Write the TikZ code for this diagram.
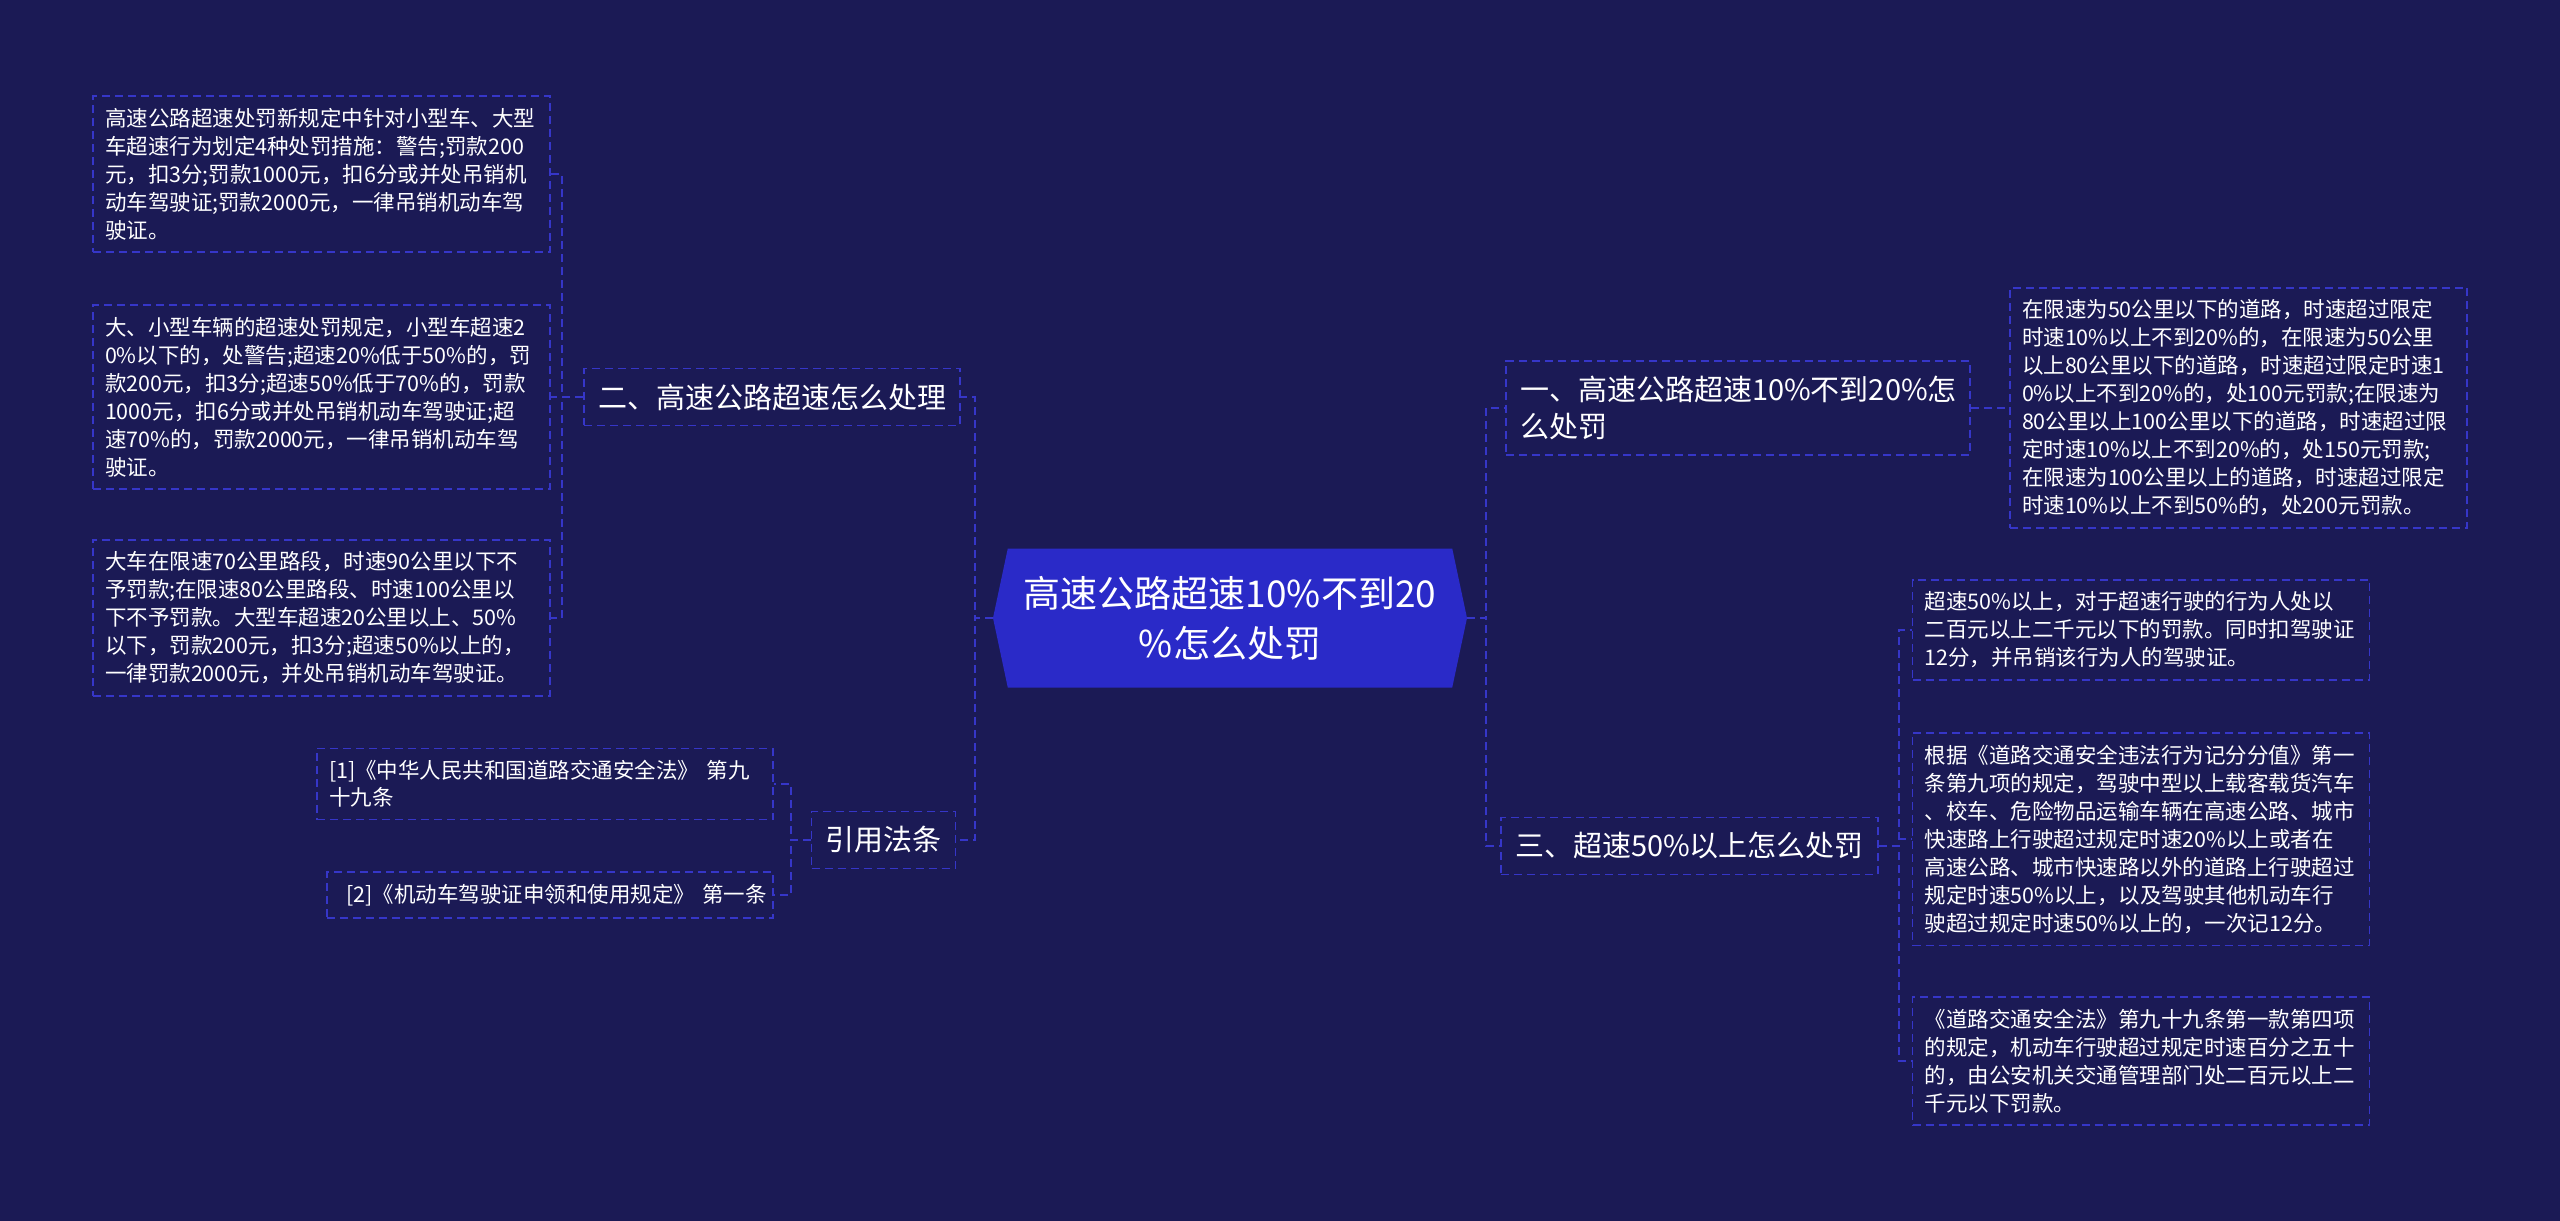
\documentclass[tikz,border=0pt]{standalone}
\usepackage{fontspec}
\setmainfont{Noto Sans CJK SC}
\usepackage{tikz}
\usetikzlibrary{shapes.symbols}
\definecolor{bgnavy}{HTML}{1B1A55}
\definecolor{rootblue}{HTML}{2A2AC8}
\definecolor{linkblue}{HTML}{3636C8}

\begin{document}
\begin{tikzpicture}[x=1pt, y=-1pt,
    root/.style={shape=signal, signal to=west and east, signal pointer angle=156, fill=rootblue, text=white,
        minimum width=474pt, minimum height=139pt, inner sep=0pt, align=center, font=\fontsize{37}{50}\selectfont},
    topic/.style={draw=linkblue, line width=1.6pt, dash pattern=on 8pt off 5pt, text=white,
        align=left, inner xsep=14pt, inner ysep=15pt, font=\fontsize{29}{37}\selectfont},
    leaf/.style={draw=linkblue, line width=1.6pt, dash pattern=on 8pt off 5pt, text=white,
        align=left, text width=433pt, inner xsep=12pt, inner ysep=12pt, font=\fontsize{21.5}{28}\selectfont},
    reffont/.style={font=\fontsize{21.5}{27}\selectfont},
    link/.style={draw=linkblue, line width=1.6pt, dash pattern=on 8pt off 5pt}]

    \fill[bgnavy] (0,0) rectangle (2560,1221);

    \node[root] (root) at (1230,618) {高速公路超速10\%不到20\\\%怎么处罚};

    \node[topic] (er) at (772,397) {二、高速公路超速怎么处理};
    \node[topic] (yin) at (883.5,840) {引用法条};
    \node[topic, text width=436pt] (yi) at (1738,408) {一、高速公路超速10\%不到20\%怎\\么处罚};
    \node[topic] (san) at (1689.5,846) {三、超速50\%以上怎么处罚};

    \node[leaf] (l1) at (321.5,174) {高速公路超速处罚新规定中针对小型车、大型\\车超速行为划定4种处罚措施：警告;罚款200\\元，扣3分;罚款1000元，扣6分或并处吊销机\\动车驾驶证;罚款2000元，一律吊销机动车驾\\驶证。};
    \node[leaf] (l2) at (321.5,397) {大、小型车辆的超速处罚规定，小型车超速2\\0\%以下的，处警告;超速20\%低于50\%的，罚\\款200元，扣3分;超速50\%低于70\%的，罚款\\1000元，扣6分或并处吊销机动车驾驶证;超\\速70\%的，罚款2000元，一律吊销机动车驾\\驶证。};
    \node[leaf] (l3) at (321.5,618) {大车在限速70公里路段，时速90公里以下不\\予罚款;在限速80公里路段、时速100公里以\\下不予罚款。大型车超速20公里以上、50\%\\以下，罚款200元，扣3分;超速50\%以上的，\\一律罚款2000元，并处吊销机动车驾驶证。};

    \node[leaf, reffont, text width=432pt] (ref1) at (545,784) {\mbox{[1]《中华人民共和国道路交通安全法》 第九}\\十九条};
    \node[leaf, reffont, text width=422pt] (ref2) at (550,895) {\mbox{\ [2]《机动车驾驶证申领和使用规定》 第一条}};

    \node[leaf] (r1) at (2238.5,408) {在限速为50公里以下的道路，时速超过限定\\时速10\%以上不到20\%的，在限速为50公里\\以上80公里以下的道路，时速超过限定时速1\\0\%以上不到20\%的，处100元罚款;在限速为\\80公里以上100公里以下的道路，时速超过限\\定时速10\%以上不到20\%的，处150元罚款;\\在限速为100公里以上的道路，时速超过限定\\时速10\%以上不到50\%的，处200元罚款。};
    \node[leaf] (r2) at (2141,630) {超速50\%以上，对于超速行驶的行为人处以\\二百元以上二千元以下的罚款。同时扣驾驶证\\12分，并吊销该行为人的驾驶证。};
    \node[leaf] (r3) at (2141,839) {根据《道路交通安全违法行为记分分值》第一\\条第九项的规定，驾驶中型以上载客载货汽车\\、校车、危险物品运输车辆在高速公路、城市\\快速路上行驶超过规定时速20\%以上或者在\\高速公路、城市快速路以外的道路上行驶超过\\规定时速50\%以上，以及驾驶其他机动车行\\驶超过规定时速50\%以上的，一次记12分。};
    \node[leaf] (r4) at (2141,1061) {《道路交通安全法》第九十九条第一款第四项\\的规定，机动车行驶超过规定时速百分之五十\\的，由公安机关交通管理部门处二百元以上二\\千元以下罚款。};

    \foreach \c in {er,yin}
        \draw[link] (root.west) -- ++(-18,0) |- (\c.east);
    \foreach \c in {yi,san}
        \draw[link] (root.east) -- ++(19,0) |- (\c.west);
    \foreach \c in {l1,l2,l3}
        \draw[link] (er.west) -- ++(-21,0) |- (\c.east);
    \foreach \c in {ref1,ref2}
        \draw[link] (yin.west) -- ++(-20,0) |- (\c.east);
    \foreach \c in {r2,r3,r4}
        \draw[link] (san.east) -- ++(20,0) |- (\c.west);
    \draw[link] (yi.east) -- (r1.west);
\end{tikzpicture}
\end{document}
